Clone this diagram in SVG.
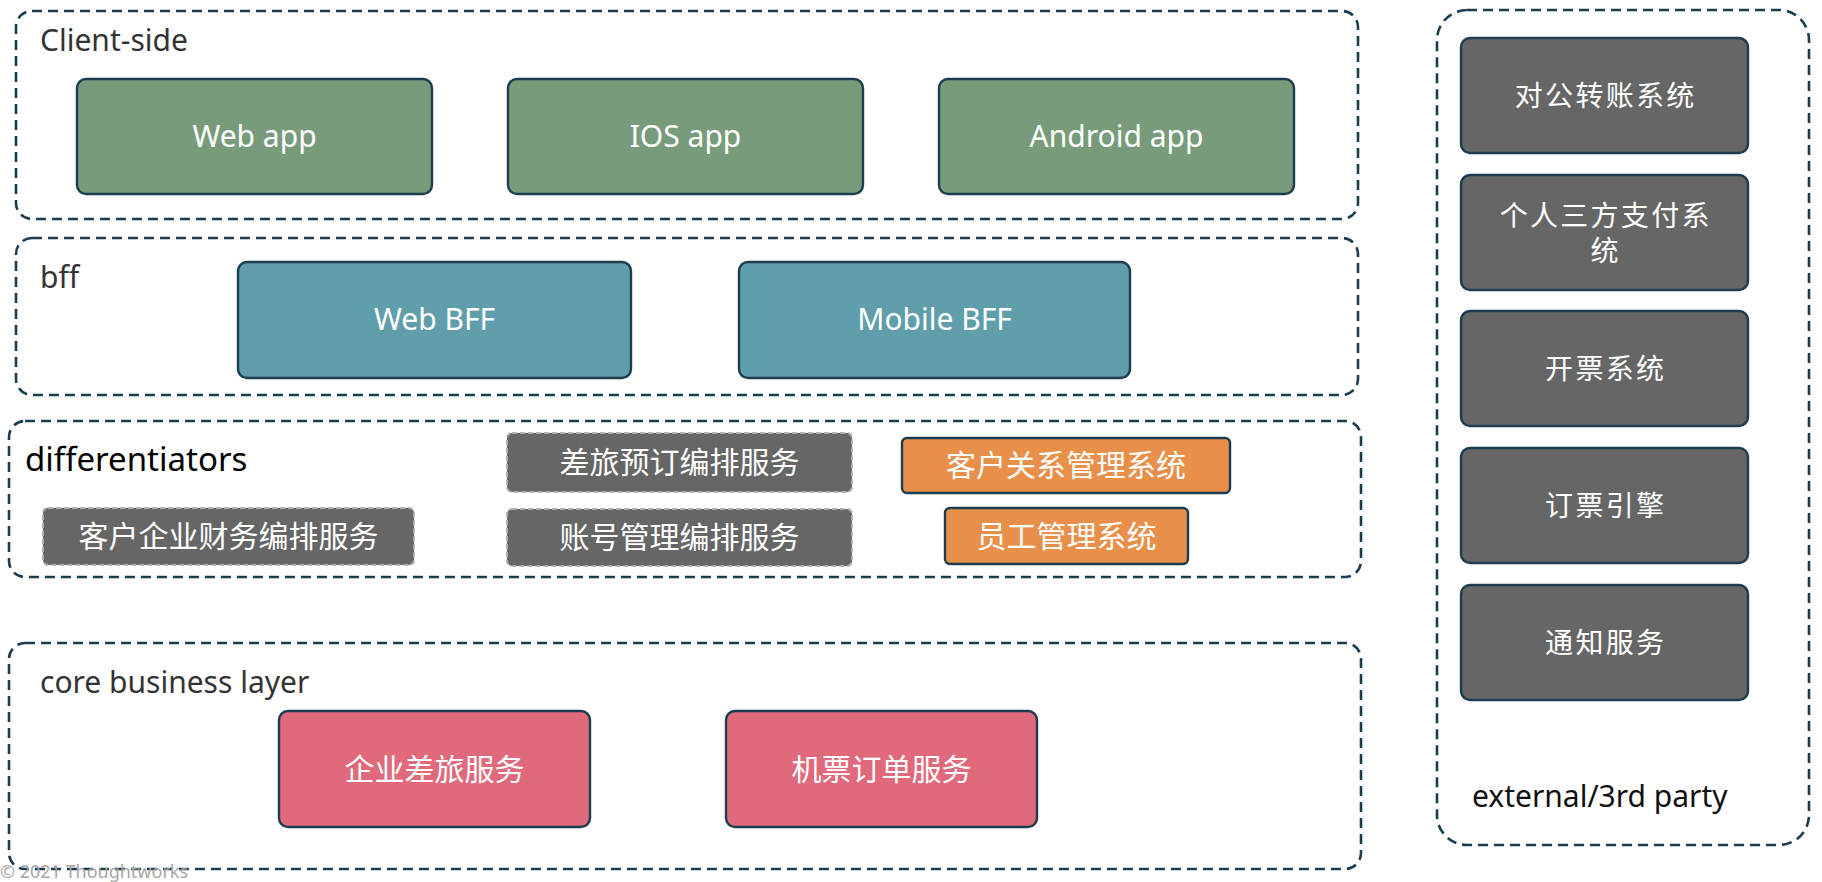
<svg xmlns="http://www.w3.org/2000/svg" width="1822" height="882" viewBox="0 0 1822 882">
  <style>
    text { font-family: "Noto Sans", "Noto Sans CJK SC", sans-serif; }
    .layer { fill: none; stroke: #1b3d4f; stroke-width: 2.6; stroke-dasharray: 10 6; }
    .lbl { font-size: 30px; fill: #333333; }
    .box { stroke: #1b3d4f; stroke-width: 2.4; }
    .green { fill: #789c7b; }
    .teal { fill: #5f9eaa; }
    .pink { fill: #e06a7b; }
    .orange { fill: #e8904a; }
    .gray { fill: #666666; }
    .dgray { fill: #666666; stroke: #b0b0b0; stroke-width: 2; stroke-dasharray: 5 3; }
    .t { font-size: 30px; fill: #ffffff; text-anchor: middle; }
    .te { font-size: 28px; fill: #ffffff; text-anchor: middle; letter-spacing: 2.3px; }
  </style>

  <g id="layers">
    <g id="client-side">
      <rect class="layer" x="16" y="11" width="1342" height="208" rx="16"/>
      <text class="lbl" x="40" y="51">Client-side</text>
    </g>
    <g id="bff">
      <rect class="layer" x="16" y="238" width="1342" height="157" rx="16"/>
      <text class="lbl" x="40" y="288">bff</text>
    </g>
    <g id="differentiators">
      <rect class="layer" x="9" y="421" width="1352" height="156" rx="16"/>
      <text x="25" y="471" style="font-size:33px;fill:#000000">differentiators</text>
    </g>
    <g id="core-business-layer">
      <rect class="layer" x="9" y="643" width="1352" height="226" rx="16"/>
      <text class="lbl" x="40" y="693">core business layer</text>
    </g>
    <g id="external">
      <rect class="layer" x="1437" y="10" width="372" height="835" rx="30"/>
      <text x="1472" y="807" style="font-size:30px;fill:#111111">external/3rd party</text>
    </g>
  </g>

  <g id="connectors"></g>

  <g id="web-app">
    <rect class="box green" x="77" y="79" width="355" height="115" rx="9"/>
    <text class="t" x="254.5" y="147">Web app</text>
  </g>
  <g id="ios-app">
    <rect class="box green" x="508" y="79" width="355" height="115" rx="9"/>
    <text class="t" x="685.5" y="147">IOS app</text>
  </g>
  <g id="android-app">
    <rect class="box green" x="939" y="79" width="355" height="115" rx="9"/>
    <text class="t" x="1116.5" y="147">Android app</text>
  </g>

  <g id="web-bff">
    <rect class="box teal" x="238" y="262" width="393" height="116" rx="9"/>
    <text class="t" x="434.5" y="330">Web BFF</text>
  </g>
  <g id="mobile-bff">
    <rect class="box teal" x="739" y="262" width="391" height="116" rx="9"/>
    <text class="t" x="934.5" y="330">Mobile BFF</text>
  </g>

  <g id="travel-booking-orchestration">
    <rect class="dgray" x="507" y="433" width="345" height="59" rx="5"/>
    <text class="t" x="679.5" y="473">差旅预订编排服务</text>
  </g>
  <g id="customer-finance-orchestration">
    <rect class="dgray" x="43" y="508" width="371" height="57" rx="5"/>
    <text class="t" x="228.5" y="547">客户企业财务编排服务</text>
  </g>
  <g id="account-orchestration">
    <rect class="dgray" x="507" y="509" width="345" height="57" rx="5"/>
    <text class="t" x="679.5" y="548">账号管理编排服务</text>
  </g>
  <g id="crm">
    <rect class="box orange" x="902" y="438" width="328" height="55" rx="5"/>
    <text class="t" x="1066" y="476">客户关系管理系统</text>
  </g>
  <g id="employee-mgmt">
    <rect class="box orange" x="945" y="508" width="243" height="56" rx="5"/>
    <text class="t" x="1066.5" y="547">员工管理系统</text>
  </g>

  <g id="enterprise-travel">
    <rect class="box pink" x="279" y="711" width="311" height="116" rx="9"/>
    <text class="t" x="434.5" y="780">企业差旅服务</text>
  </g>
  <g id="flight-order">
    <rect class="box pink" x="726" y="711" width="311" height="116" rx="9"/>
    <text class="t" x="881.5" y="780">机票订单服务</text>
  </g>

  <g id="corporate-transfer">
    <rect class="box gray" x="1461" y="38" width="287" height="115" rx="9"/>
    <text class="te" x="1605.7" y="105.5">对公转账系统</text>
  </g>
  <g id="personal-payment">
    <rect class="box gray" x="1461" y="175" width="287" height="115" rx="9"/>
    <text class="te" x="1605.7" y="226">个人三方支付系</text>
    <text class="te" x="1605.7" y="261">统</text>
  </g>
  <g id="invoicing">
    <rect class="box gray" x="1461" y="311" width="287" height="115" rx="9"/>
    <text class="te" x="1605.7" y="378.5">开票系统</text>
  </g>
  <g id="booking-engine">
    <rect class="box gray" x="1461" y="448" width="287" height="115" rx="9"/>
    <text class="te" x="1605.7" y="515.5">订票引擎</text>
  </g>
  <g id="notification">
    <rect class="box gray" x="1461" y="585" width="287" height="115" rx="9"/>
    <text class="te" x="1605.7" y="652.5">通知服务</text>
  </g>

  <text x="0" y="878" style="font-size:18px;fill:#a6a6a6">© 2021 Thoughtworks</text>
</svg>
